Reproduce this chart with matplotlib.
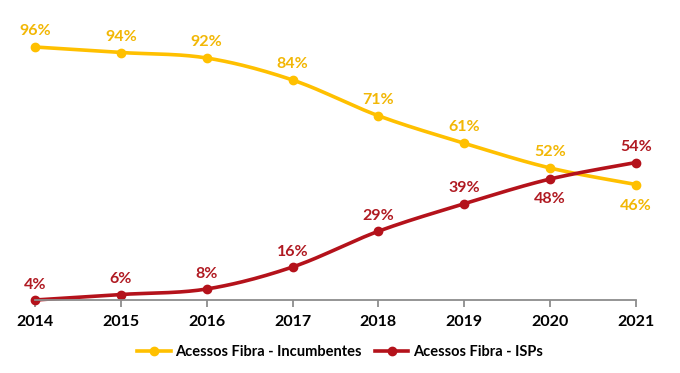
import numpy as np
import matplotlib
matplotlib.use("Agg")
import matplotlib.pyplot as plt
from matplotlib.lines import Line2D

years = [2014, 2015, 2016, 2017, 2018, 2019, 2020, 2021]
incumbentes = [96, 94, 92, 84, 71, 61, 52, 46]
isps = [4, 6, 8, 16, 29, 39, 48, 54]
label_inc = "Acessos Fibra - Incumbentes"
label_isp = "Acessos Fibra - ISPs"

yellow = "#FFC000"
yellow_txt = "#F2B705"
red = "#B4121B"
red_txt = "#B01A22"

plt.rcParams['font.family'] = ['Lato', 'DejaVu Sans']


# Excel-like smoothed line (Catmull-Rom through the points)
def smooth(x, y, n=30):
    x = np.asarray(x, float)
    y = np.asarray(y, float)
    px = np.concatenate([[x[0]], x, [x[-1]]])
    py = np.concatenate([[y[0]], y, [y[-1]]])
    xs, ys = [], []
    t = np.linspace(0, 1, n)
    for i in range(1, len(px) - 2):
        p0 = np.array([px[i], py[i]])
        p3 = np.array([px[i + 1], py[i + 1]])
        p1 = p0 + (np.array([px[i + 1], py[i + 1]]) - np.array([px[i - 1], py[i - 1]])) / 6
        p2 = p3 - (np.array([px[i + 2], py[i + 2]]) - np.array([px[i], py[i]])) / 6
        b = ((1 - t) ** 3)[:, None] * p0 + (3 * (1 - t) ** 2 * t)[:, None] * p1 \
            + (3 * (1 - t) * t ** 2)[:, None] * p2 + (t ** 3)[:, None] * p3
        xs.extend(b[:, 0])
        ys.extend(b[:, 1])
    return xs, ys


fig = plt.figure(figsize=(6.8, 3.73), dpi=100)
ax = fig.add_axes([35 / 680, 1 - 300 / 373, (636 - 35) / 680, 96 * 2.75 / 373])

for vals, col in [(incumbentes, yellow), (isps, red)]:
    sx, sy = smooth(years, vals)
    ax.plot(sx, sy, color=col, lw=2.6, clip_on=False, solid_capstyle='round')
    ax.plot(years, vals, 'o', color=col, ms=6, clip_on=False)

# data labels
inc_below = {2021}
isp_below = {2020}
for x, v in zip(years, incumbentes):
    off = -15.5 if x in inc_below else 11.5
    ax.annotate(f"{v}%", (x, v), xytext=(0, off), textcoords='offset points',
                ha='center', va='center', color=yellow_txt, fontsize=11.5,
                fontweight='bold')
for x, v in zip(years, isps):
    off = -14.5 if x in isp_below else 11
    ax.annotate(f"{v}%", (x, v), xytext=(0, off), textcoords='offset points',
                ha='center', va='center', color=red_txt, fontsize=11.5,
                fontweight='bold')

ax.set_xlim(2014, 2021)
ax.set_ylim(4, 100)
for s in ['top', 'right', 'left']:
    ax.spines[s].set_visible(False)
ax.spines['bottom'].set_color('#8C8C8C')
ax.spines['bottom'].set_linewidth(1.3)
ax.set_yticks([])
ax.set_xticks(years)
ax.set_xticklabels([str(y) for y in years], fontsize=11.5, fontweight='bold')
ax.tick_params(axis='x', direction='out', length=5, width=1.3, color='#8C8C8C', pad=6)

handles = [Line2D([], [], color=yellow, lw=2.6, marker='o', ms=6),
           Line2D([], [], color=red, lw=2.6, marker='o', ms=6)]
fig.legend(handles, [label_inc, label_isp], loc='center', bbox_to_anchor=(0.5, 1 - 352 / 373),
           ncol=2, frameon=False, prop={'weight': 'bold', 'size': 10.5},
           handlelength=2.3, handletextpad=0.3, columnspacing=0.9)

fig.savefig("out.png", dpi=100)
